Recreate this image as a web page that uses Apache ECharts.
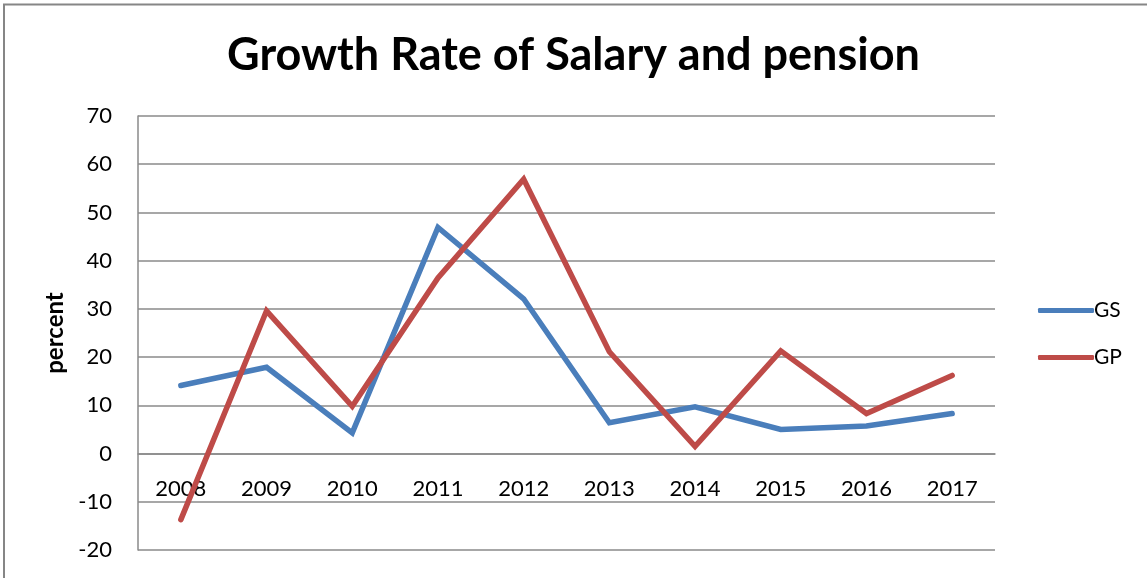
<!DOCTYPE html>
<html>
<head>
<meta charset="utf-8">
<script src="https://cdn.jsdelivr.net/npm/echarts@6/dist/echarts.min.js"></script>
<style>
  html, body { margin: 0; padding: 0; background: #fff; }
  #chart { width: 1147px; height: 578px; }
</style>
</head>
<body>
<div id="chart"></div>
<script>
// Annual growth rates (%), 2008–2017
const years = ['2008', '2009', '2010', '2011', '2012', '2013', '2014', '2015', '2016', '2017'];
const gsValues = [14.1, 17.9, 4.3, 46.9, 32.1, 6.4, 9.7, 5.0, 5.7, 8.3];
const gpValues = [-13.7, 29.6, 9.8, 36.4, 56.9, 21.1, 1.5, 21.3, 8.3, 16.2];
const seriesNames = ['GS', 'GP'];
const yAxisTitle = 'percent';
const yMin = -20;
const yMax = 70;

const FONT = 'Lato, "Open Sans", sans-serif';
const GRID_COLOR = '#8a8a8a';
const GRID_LEFT = 138;
const GRID_TOP = 116;
const GRID_HEIGHT = 434;

// the category axis crosses the value axis at 0
const zeroOffset = -GRID_HEIGHT * (0 - yMin) / (yMax - yMin);

const chart = echarts.init(document.getElementById('chart'), null, { renderer: 'canvas' });

chart.setOption({
  backgroundColor: '#ffffff',
  animation: false,
  title: {
    text: 'Growth Rate of Salary and pension',
    left: 'center',
    top: 28,
    textStyle: { fontFamily: FONT, fontWeight: 'bold', fontSize: 45, color: '#000' }
  },
  legend: {
    orient: 'vertical',
    left: 1033,
    top: 295,
    itemWidth: 56,
    itemHeight: 5,
    itemGap: 26,
    icon: 'roundRect',
    textStyle: { fontFamily: FONT, fontSize: 21, color: '#000', padding: [0, 0, 0, -5] },
    data: seriesNames
  },
  grid: { left: GRID_LEFT, top: GRID_TOP, width: 857, height: GRID_HEIGHT, containLabel: false, outerBoundsMode: 'none' },
  xAxis: {
    type: 'category',
    data: years,
    boundaryGap: true,
    position: 'bottom',
    offset: zeroOffset,
    axisLine: { show: true, onZero: false, lineStyle: { color: GRID_COLOR, width: 1.5 } },
    axisTick: { show: false },
    axisLabel: { fontFamily: FONT, fontSize: 22, color: '#000', margin: 24 },
    splitLine: { show: false }
  },
  yAxis: {
    type: 'value',
    min: yMin,
    max: yMax,
    interval: 10,
    axisLine: { show: true, lineStyle: { color: GRID_COLOR, width: 1.5 } },
    axisTick: { show: false },
    axisLabel: { fontFamily: FONT, fontSize: 22, color: '#000', margin: 26 },
    splitLine: { show: true, lineStyle: { color: GRID_COLOR, width: 1.5 } }
  },
  series: [
    {
      name: seriesNames[0],
      type: 'line',
      data: gsValues,
      showSymbol: false,
      symbol: 'none',
      lineStyle: { color: '#4A7EBB', width: 5.5, cap: 'round', join: 'miter' },
      itemStyle: { color: '#4A7EBB' },
      z: 3
    },
    {
      name: seriesNames[1],
      type: 'line',
      data: gpValues,
      showSymbol: false,
      symbol: 'none',
      lineStyle: { color: '#BE4B48', width: 5.5, cap: 'round', join: 'miter' },
      itemStyle: { color: '#BE4B48' },
      z: 4
    }
  ],
  graphic: [
    // chart frame (top and left edges)
    { type: 'line', shape: { x1: 3, y1: 4.5, x2: 1147, y2: 4.5 }, style: { stroke: '#868686', lineWidth: 2 } },
    { type: 'line', shape: { x1: 4, y1: 4, x2: 4, y2: 578 }, style: { stroke: '#868686', lineWidth: 2 } },
    // value axis title, rotated and centred on the plot height
    {
      type: 'text',
      x: 55,
      y: GRID_TOP + GRID_HEIGHT / 2,
      rotation: Math.PI / 2,
      style: {
        text: yAxisTitle,
        fontFamily: FONT,
        fontWeight: 'bold',
        fontSize: 24,
        fill: '#000',
        align: 'center',
        verticalAlign: 'middle'
      }
    }
  ]
});
</script>
</body>
</html>
